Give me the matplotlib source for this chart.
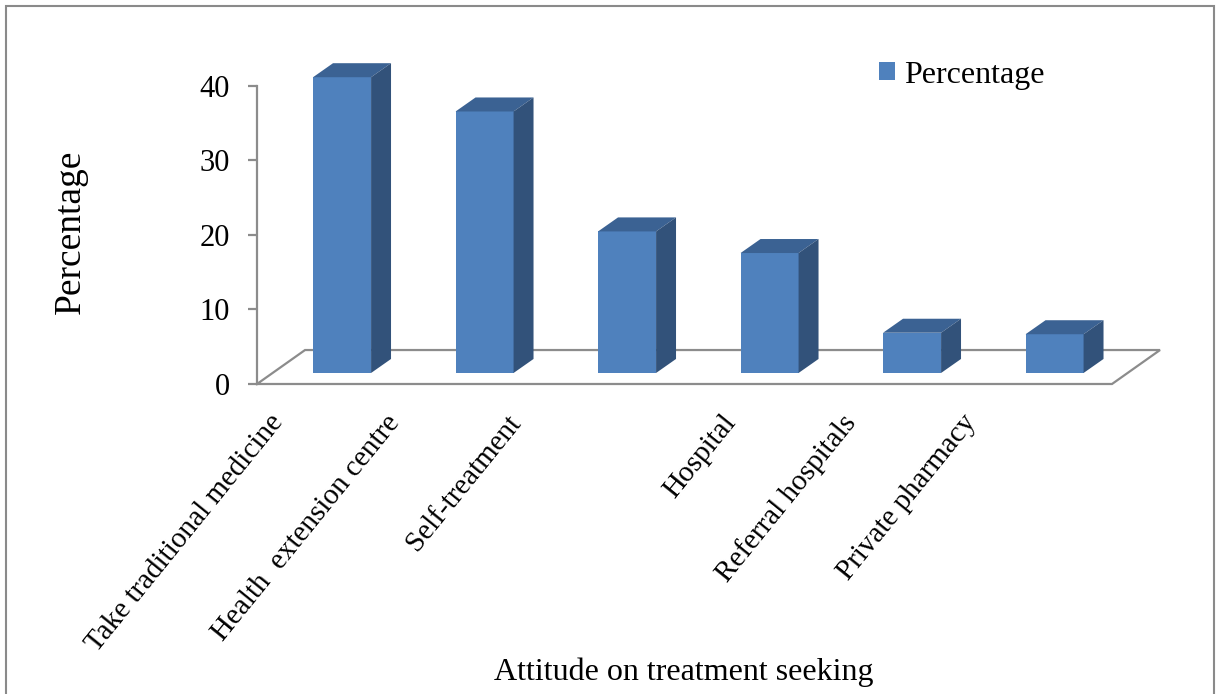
import matplotlib
matplotlib.use("Agg")
import matplotlib.pyplot as plt
from matplotlib.patches import Polygon, Rectangle

plt.rcParams['font.family'] = ['Liberation Serif', 'DejaVu Serif']

# Attitude on treatment seeking (%)
categories = ['Take traditional medicine', 'Health  extension centre', 'Self-treatment',
              'Hospital', 'Referral hospitals', 'Private pharmacy']
percent = [39.7, 35.1, 19.0, 16.1, 5.4, 5.2]
yticks = [0, 10, 20, 30, 40]

front_c = '#4f81bd'
top_c = '#3b6293'
side_c = '#32527a'
grid_c = '#8c8c8c'

# fake 3-D geometry, in data units
floor_dx, floor_dy = 0.337, 4.56   # depth of the floor
bar_dx, bar_b = 0.097, 1.48        # where the bar front sits on the floor
side_dx, side_dy = 0.140, 1.88     # bar depth
bar_w = 0.407
label_dx = [-0.42, -0.60, -0.75, -0.24, -0.40, -0.56]

fig = plt.figure(figsize=(12.2, 6.94), dpi=100)
ax = fig.add_axes([0.21066, 0.44669, 0.75922, 0.48307])
ax.set_xlim(-0.5, 6.0)
ax.set_ylim(0, 45)

n = len(categories)
xs = list(range(n))

# floor of the 3-D plot
x0, x1 = -0.5, n - 0.5
ax.plot([x0, x1, x1 + floor_dx, x0 + floor_dx, x0],
        [0, 0, floor_dy, floor_dy, 0], color=grid_c, lw=1.6, zorder=1,
        clip_on=False, solid_joinstyle='miter')

# bars: front face, top and side
bars = ax.bar([x + bar_dx for x in xs], percent, width=bar_w, bottom=bar_b,
              color=front_c, zorder=3, label='Percentage')
for rect, v in zip(bars, percent):
    xl = rect.get_x()
    xr = xl + rect.get_width()
    yt = bar_b + v
    top = Polygon([(xl, yt), (xr, yt), (xr + side_dx, yt + side_dy),
                   (xl + side_dx, yt + side_dy)], closed=True,
                  facecolor=top_c, edgecolor='none', zorder=3, clip_on=False)
    side = Polygon([(xr, bar_b), (xr, yt), (xr + side_dx, yt + side_dy),
                    (xr + side_dx, bar_b + side_dy)], closed=True,
                   facecolor=side_c, edgecolor='none', zorder=3, clip_on=False)
    ax.add_patch(top)
    ax.add_patch(side)

# value axis
for s in ['top', 'right', 'bottom']:
    ax.spines[s].set_visible(False)
ax.spines['left'].set_bounds(0, 40)
ax.spines['left'].set_color(grid_c)
ax.spines['left'].set_linewidth(1.6)
ax.set_yticks(yticks)
ax.tick_params(axis='y', length=6.5, width=1.6, color=grid_c, pad=13,
               labelsize=22)
ax.set_xticks([])

# category labels
for x, name, dx in zip(xs, categories, label_dx):
    ax.text(x + dx, -3.5, name, rotation=51, ha='right', va='top',
            rotation_mode='anchor', fontsize=21)

fig.text(71 / 1220, 1 - 232 / 694, 'Percentage', rotation=90, ha='center',
         va='center', fontsize=27)
fig.text(683.5 / 1220, 1 - 672 / 694, 'Attitude on treatment seeking',
         ha='center', va='center', fontsize=23)

fig.legend(handles=[bars], labels=['Percentage'], loc='center left',
           bbox_to_anchor=(879 / 1220, 1 - 75 / 694), frameon=False,
           fontsize=23, handlelength=0.5, handleheight=0.5,
           handletextpad=0.3, borderpad=0, borderaxespad=0)

# chart border
fig.patches.append(Rectangle((6 / 1220, -0.05), (1214 - 6) / 1220,
                             1.05 - 6 / 694, transform=fig.transFigure,
                             fill=False, edgecolor='#8a8a8a', lw=1.5))

fig.savefig('out.png', dpi=100)
